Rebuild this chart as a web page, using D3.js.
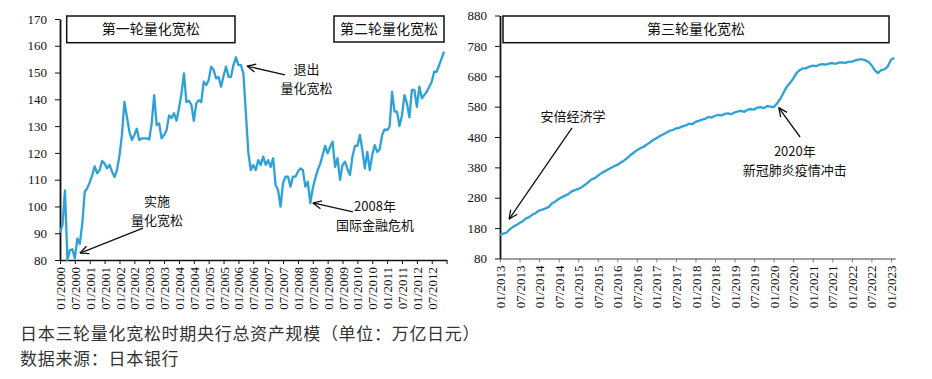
<!DOCTYPE html>
<html>
<head>
<meta charset="utf-8">
<script src="https://cdn.jsdelivr.net/npm/d3@7"></script>
<style>
  body { margin: 0; background: #fff; }
  svg text { font-family: "Noto Sans CJK SC", "Noto Sans", sans-serif; fill: #111; }
  .axis .tick text { font-family: "Liberation Serif", "Times New Roman", serif; font-size: 13px; fill: #111; }
</style>
</head>
<body>
<div id="chart"></div>
<script>
// monthly total assets, first & second QE period (01/2000 .. 12/2012)
const qe1Values = [
  90.2, 93, 106, 80, 83.7, 84, 80.6, 88, 86, 93.7,
  105.5, 106.8, 109, 111.7, 115, 112.4, 113.6, 117, 116, 114.2,
  115.5, 113, 111, 113.6, 119, 126.7, 139, 133.5, 128, 124.8,
  126.7, 129, 124.8, 125.4, 125.4, 125.4, 125, 131, 141.6, 130.4,
  131, 125.4, 126.7, 128.5, 134, 133, 134.8, 132, 136.6, 142,
  149.7, 139, 139.5, 138, 132, 138.5, 139.7, 139, 146.6, 145.3,
  147.2, 152.2, 151, 147.8, 148.4, 144.7, 148.7, 152.2, 148.4, 148.4,
  152.8, 155.7, 152.8, 152.8, 149.7, 135, 120, 113.6, 115.5, 113.6,
  117.3, 115.5, 118.6, 115.5, 117.3, 114.8, 118, 108, 106.1, 99.9,
  108.7, 111.1, 111.1, 107.4, 111.1, 111.1, 113, 114.2, 113.6, 107.4,
  109.2, 101.2, 106.8, 110.5, 113.6, 116, 119.2, 122.6, 119.8, 122.3,
  124.2, 114.8, 118, 109.9, 115.5, 116.7, 114, 111.7, 118.6, 122.6,
  122.6, 126.7, 121.1, 114.2, 120.4, 113.6, 119.2, 122.9, 120.4, 121.3,
  126.7, 128.8, 128.5, 129.8, 142.8, 135.4, 135.4, 130, 134.1, 141.6,
  138.5, 133.3, 143.5, 143.5, 137.2, 144.7, 140.4, 141.6, 142.8, 144.7,
  146.6, 150.3, 150.3, 152.8, 155.3, 157.8
];
const qe1TickLabels = [
  "01/2000", "07/2000", "01/2001", "07/2001", "01/2002", "07/2002", "01/2003", "07/2003",
  "01/2004", "07/2004", "01/2005", "07/2005", "01/2006", "07/2006", "01/2007", "07/2007",
  "01/2008", "07/2008", "01/2009", "07/2009", "01/2010", "07/2010", "01/2011", "07/2011",
  "01/2012", "07/2012", ""
];
const qe1YTicks = [80, 90, 100, 110, 120, 130, 140, 150, 160, 170];

// monthly total assets, third QE period (01/2013 .. 02/2023)
const qe3Values = [
  158, 162, 165, 176, 184, 190, 197, 203, 212, 216,
  225, 230, 238, 241, 245, 250, 262, 268, 276, 282,
  287, 292, 301, 305, 309, 314, 322, 330, 340, 344,
  352, 360, 366, 372, 378, 384, 388, 395, 402, 410,
  420, 428, 436, 443, 447, 455, 462, 470, 476, 483,
  488, 494, 500, 503, 508, 510, 515, 518, 524, 522,
  530, 533, 537, 540, 546, 544, 550, 553, 551, 556,
  558, 555, 561, 564, 566, 563, 570, 572, 570, 577,
  578, 575, 582, 580, 578, 590, 605, 625, 645, 658,
  672, 690, 700, 706, 706, 712, 715, 713, 718, 720,
  718, 722, 723, 721, 725, 726, 724, 727, 728, 732,
  735, 736, 733, 728, 717, 700, 690, 700, 703, 712,
  734, 740
];
const qe3TickLabels = [
  "01/2013", "07/2013", "01/2014", "07/2014", "01/2015", "07/2015", "01/2016", "07/2016",
  "01/2017", "07/2017", "01/2018", "07/2018", "01/2019", "07/2019", "01/2020", "07/2020",
  "01/2021", "07/2021", "01/2022", "07/2022", "01/2023"
];
const qe3YTicks = [80, 180, 280, 380, 480, 580, 680, 780, 880];

// annotations, in (month index, value) units of each chart
const qe1Notes = [
  { lines: ["实施", "量化宽松"], at: [39.1, 101.9], from: [33.5, 91.9], to: [8.1, 82.6] },
  { lines: ["退出", "量化宽松"], at: [99.5, 151.1], from: [90.8, 149.1], to: [75.5, 152.4] },
  { lines: ["2008年", "国际金融危机"], at: [127.1, 100], from: [118.2, 98], to: [102.1, 101.3] }
];
const qe3Notes = [
  { lines: ["安倍经济学"], at: [22.4, 547], from: [22.1, 510], to: [2.8, 210] },
  { lines: ["2020年", "新冠肺炎疫情冲击"], at: [90.5, 434], from: [92.1, 480], to: [85.6, 576] }
];

const caption = ["日本三轮量化宽松时期央行总资产规模（单位：万亿日元）", "数据来源：日本银行"];

const width = 932, height = 379;
const lineColor = "#2ea1d8";

var svg = d3.select("#chart").append("svg")
  .attr("width", width)
  .attr("height", height);

svg.append("rect").attr("width", width).attr("height", height).attr("fill", "#fff");

svg.append("defs").append("marker")
  .attr("id", "arrow")
  .attr("viewBox", "0 0 10 10")
  .attr("refX", 9.5)
  .attr("refY", 5)
  .attr("markerWidth", 10)
  .attr("markerHeight", 10)
  .attr("markerUnits", "userSpaceOnUse")
  .attr("orient", "auto")
  .append("path")
  .attr("d", "M1,1 L9.5,5 L1,9")
  .attr("fill", "none")
  .attr("stroke", "#111")
  .attr("stroke-width", 1.3);

// draws one panel: axes, line, notes
var drawPanel = function (opt) {
  var x = d3.scaleLinear().domain(opt.xDomain).range(opt.xRange);
  var y = d3.scaleLinear().domain(opt.yDomain).range(opt.yRange);
  var g = svg.append("g");

  var xAxis = g.append("g")
    .attr("class", "axis")
    .attr("transform", "translate(0," + opt.yRange[0] + ")")
    .call(d3.axisBottom(x)
      .tickValues(d3.range(0, opt.tickLabels.length * 6, 6))
      .tickFormat(function (d) { return opt.tickLabels[d / 6]; })
      .tickSize(4)
      .tickSizeOuter(0));
  xAxis.select(".domain").attr("stroke", opt.xAxisColor).attr("stroke-width", 1.6);
  xAxis.selectAll(".tick line").attr("stroke", opt.xAxisColor);
  xAxis.selectAll(".tick text")
    .attr("transform", "rotate(-90)")
    .attr("text-anchor", "end")
    .attr("x", -7)
    .attr("y", 0)
    .attr("dy", "0.35em");

  var yAxis = g.append("g")
    .attr("class", "axis")
    .attr("transform", "translate(" + opt.xRange[0] + ",0)")
    .call(d3.axisLeft(y).tickValues(opt.yTicks).tickSize(5).tickSizeOuter(0).tickPadding(8));
  yAxis.select(".domain").attr("stroke", "#111").attr("stroke-width", 1.8);
  yAxis.selectAll(".tick line").attr("stroke", "#111");

  var line = d3.line()
    .x(function (d, i) { return x(i); })
    .y(function (d) { return y(Math.max(d, opt.yDomain[0])); });

  g.append("path")
    .datum(opt.values)
    .attr("fill", "none")
    .attr("stroke", lineColor)
    .attr("stroke-width", 2.3)
    .attr("stroke-linejoin", "round")
    .attr("d", line);

  opt.boxes.forEach(function (b) {
    g.append("rect")
      .attr("x", b.x).attr("y", b.y).attr("width", b.w).attr("height", b.h)
      .attr("fill", "#fff").attr("stroke", "#111").attr("stroke-width", 1.5);
    g.append("text")
      .attr("x", b.x + b.w / 2).attr("y", b.y + b.h / 2)
      .attr("dy", "0.36em")
      .attr("text-anchor", "middle")
      .attr("font-size", "14px")
      .text(b.label);
  });

  opt.notes.forEach(function (n) {
    g.append("line")
      .attr("x1", x(n.from[0])).attr("y1", y(n.from[1]))
      .attr("x2", x(n.to[0])).attr("y2", y(n.to[1]))
      .attr("stroke", "#111").attr("stroke-width", 1.3)
      .attr("marker-end", "url(#arrow)");
    n.lines.forEach(function (t, k) {
      g.append("text")
        .attr("x", x(n.at[0]))
        .attr("y", y(n.at[1]) + k * 19)
        .attr("dy", "0.36em")
        .attr("text-anchor", "middle")
        .attr("font-size", "13px")
        .text(t);
    });
  });
};

drawPanel({
  values: qe1Values,
  xDomain: [0, 156], xRange: [60, 446.6],
  yDomain: [80, 170], yRange: [260, 19],
  tickLabels: qe1TickLabels, yTicks: qe1YTicks,
  xAxisColor: "#111",
  notes: qe1Notes,
  boxes: [
    { x: 66.7, y: 16, w: 168.3, h: 26.7, label: "第一轮量化宽松" },
    { x: 334, y: 16, w: 110, h: 26, label: "第二轮量化宽松" }
  ]
});

drawPanel({
  values: qe3Values,
  xDomain: [0, 121.3], xRange: [500, 895.2],
  yDomain: [80, 880], yRange: [258.5, 15.5],
  tickLabels: qe3TickLabels, yTicks: qe3YTicks,
  xAxisColor: "#7f7f7f",
  notes: qe3Notes,
  boxes: [
    { x: 503, y: 16, w: 386, h: 26.7, label: "第三轮量化宽松" }
  ]
});

// caption under the charts
svg.selectAll(".caption")
  .data(caption)
  .enter()
  .append("text")
  .attr("class", "caption")
  .attr("x", 20)
  .attr("y", function (d, i) { return 340 + i * 25; })
  .attr("font-size", "17px")
  .attr("letter-spacing", "0.7px")
  .style("fill", "#333")
  .text(function (d) { return d; });
</script>
</body>
</html>
